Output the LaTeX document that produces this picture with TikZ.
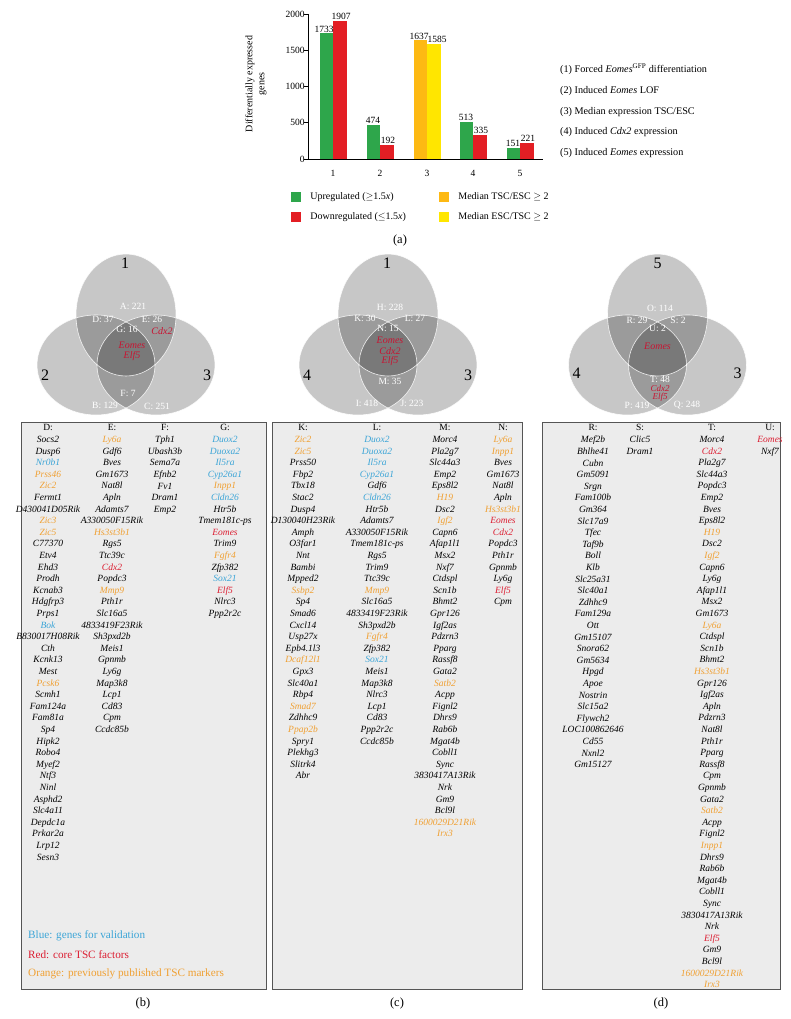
\documentclass[tikz,border=0pt]{standalone}
\usepackage{fontspec}
\setmainfont{Liberation Serif}
\usepackage{tikz}
\usepackage{xcolor}
\usetikzlibrary{positioning}

\definecolor{upgreen}{RGB}{46,166,75}
\definecolor{downred}{RGB}{227,30,36}
\definecolor{medorange}{RGB}{253,185,19}
\definecolor{medyellow}{RGB}{255,230,0}
\definecolor{genblue}{RGB}{60,165,215}
\definecolor{genred}{RGB}{220,30,50}
\definecolor{genorange}{RGB}{240,160,50}
\definecolor{boxgray}{RGB}{236,236,236}
\definecolor{boxline}{RGB}{85,85,85}
\definecolor{vennred}{RGB}{200,20,50}

\newcommand{\gblue}[1]{\textcolor{genblue}{#1}}
\newcommand{\gred}[1]{\textcolor{genred}{#1}}
\newcommand{\gorange}[1]{\textcolor{genorange}{#1}}

\tikzset{
  gene/.style={anchor=north, inner sep=0pt, align=center, font=\fontsize{9.5}{11.6}\selectfont\itshape},
  colhead/.style={inner sep=0pt, font=\fontsize{9.5}{11}\selectfont},
  genebox/.style={fill=boxgray, draw=boxline, line width=0.9pt},
  vennset/.style={fill=black, fill opacity=0.22},
  vennedge/.style={draw=white, line width=0.6pt, opacity=0.85},
  venncount/.style={text=white, inner sep=0pt, font=\fontsize{9.5}{10}\selectfont},
  venngene/.style={text=vennred, inner sep=0pt, font=\fontsize{10}{11}\selectfont\itshape},
  vennnum/.style={inner sep=0pt, font=\fontsize{16}{17}\selectfont},
  panel/.style={inner sep=0pt, font=\fontsize{12.5}{13}\selectfont},
  barval/.style={anchor=south, inner sep=1pt, font=\fontsize{9.5}{10}\selectfont},
  axislabel/.style={inner sep=0pt, font=\fontsize{9.5}{10}\selectfont},
  legkey/.style={minimum size=10pt, inner sep=0pt},
  legtext/.style={inner sep=0pt, font=\fontsize{10}{11}\selectfont},
  keynote/.style={anchor=west, inner sep=0pt, font=\fontsize{10.2}{11}\selectfont},
  boxnote/.style={anchor=west, inner sep=0pt, font=\fontsize{11.2}{12}\selectfont}
}

\begin{document}
\begin{tikzpicture}[x=1pt,y=-1pt]
\useasboundingbox (0,0) rectangle (791,1019);

% bar chart
\draw[line width=0.6pt] (308,14) -- (308,159) -- (543,159);
\foreach \v in {0,500,1000,1500,2000}
  \draw[line width=0.6pt] (304,{159-0.0725*\v}) -- (308,{159-0.0725*\v})
    node[axislabel, anchor=east, xshift=-3pt] {\v};
\node[axislabel, align=center, rotate=90, font=\fontsize{10}{12}\selectfont] (ytitle) at (256,84) {Differentially expressed\\genes};

\fill[upgreen] (319.5,159) rectangle (333,{159-0.0725*1733});
\fill[downred] (333,159) rectangle (346.5,{159-0.0725*1907});
\node[barval] (v1a) at (324,{159-0.0725*1733}) {1733};
\node[barval] (v1b) at (341,{159-0.0725*1907}) {1907};
\fill[upgreen] (366.5,159) rectangle (380,{159-0.0725*474});
\fill[downred] (380,159) rectangle (393.5,{159-0.0725*192});
\node[barval] (v2a) at (373,{159-0.0725*474}) {474};
\node[barval] (v2b) at (388,{159-0.0725*192}) {192};
\fill[medorange] (413.5,159) rectangle (427,{159-0.0725*1637});
\fill[medyellow] (427,159) rectangle (440.5,{159-0.0725*1585});
\node[barval] (v3a) at (419,{159-0.0725*1637}) {1637};
\node[barval] (v3b) at (437,{159-0.0725*1585}) {1585};
\fill[upgreen] (459.5,159) rectangle (473,{159-0.0725*513});
\fill[downred] (473,159) rectangle (486.5,{159-0.0725*335});
\node[barval] (v4a) at (466,{159-0.0725*513}) {513};
\node[barval] (v4b) at (481,{159-0.0725*335}) {335};
\fill[upgreen] (506.5,159) rectangle (520,{159-0.0725*151});
\fill[downred] (520,159) rectangle (533.5,{159-0.0725*221});
\node[barval] (v5a) at (513,{159-0.0725*151}) {151};
\node[barval] (v5b) at (528,{159-0.0725*221}) {221};

\node[axislabel] (c1) at (333,173) {1};
\node[axislabel] (c2) at (380,173) {2};
\node[axislabel] (c3) at (427,173) {3};
\node[axislabel] (c4) at (473,173) {4};
\node[axislabel] (c5) at (520,173) {5};

\node[legkey, fill=upgreen] (kup) at (296,197) {};
\node[legtext, right=9pt of kup] (tup) {Upregulated ($\geq$1.5\textit{x})};
\node[legkey, fill=downred] (kdown) at (296,217) {};
\node[legtext, right=9pt of kdown] (tdown) {Downregulated ($\leq$1.5\textit{x})};
\node[legkey, fill=medorange] (ktsc) at (444,197) {};
\node[legtext, right=9pt of ktsc] (ttsc) {Median TSC/ESC $\geq$ 2};
\node[legkey, fill=medyellow] (kesc) at (444,217) {};
\node[legtext, right=9pt of kesc] (tesc) {Median ESC/TSC $\geq$ 2};

\node[keynote] (n1) at (560,69) {(1) Forced \textit{Eomes}\textsuperscript{GFP} differentiation};
\node[keynote] (n2) at (560,91) {(2) Induced \textit{Eomes} LOF};
\node[keynote] (n3) at (560,112) {(3) Median expression TSC/ESC};
\node[keynote] (n4) at (560,132) {(4) Induced \textit{Cdx2} expression};
\node[keynote] (n5) at (560,153) {(5) Induced \textit{Eomes} expression};

\node[panel] (pa) at (400,240) {(a)};

% venn 1, 2, 3
\begin{scope}[shift={(126,0)}]
\fill[vennset] (0,315) ellipse [x radius=50pt, y radius=61pt];
\fill[vennset] (-30,365) ellipse [x radius=59pt, y radius=50pt];
\fill[vennset] (30,365) ellipse [x radius=59pt, y radius=50pt];
\draw[vennedge] (0,315) ellipse [x radius=50pt, y radius=61pt];
\draw[vennedge] (-30,365) ellipse [x radius=59pt, y radius=50pt];
\draw[vennedge] (30,365) ellipse [x radius=59pt, y radius=50pt];
\node[vennnum] (s1) at (-1,263) {1};
\node[vennnum] (s2) at (-81,375) {2};
\node[vennnum] (s3) at (81,375) {3};
\node[venncount] (ra) at (7,306) {A: 221};
\node[venncount] (rd) at (-23,319) {D: 37};
\node[venncount] (re) at (26,319) {E: 26};
\node[venncount] (rg) at (1,329) {G: 16};
\node[venngene] (ecdx) at (36,331) {Cdx2};
\node[venngene] (geo) at (6,345) {Eomes};
\node[venngene] (gelf) at (6,356) {Elf5};
\node[venncount] (rf) at (2,393) {F: 7};
\node[venncount] (rb) at (-21,405) {B: 129};
\node[venncount] (rc) at (31,406) {C: 251};
\end{scope}

\begin{scope}[shift={(388,0)}]
\fill[vennset] (0,315) ellipse [x radius=50pt, y radius=61pt];
\fill[vennset] (-30,365) ellipse [x radius=59pt, y radius=50pt];
\fill[vennset] (30,365) ellipse [x radius=59pt, y radius=50pt];
\draw[vennedge] (0,315) ellipse [x radius=50pt, y radius=61pt];
\draw[vennedge] (-30,365) ellipse [x radius=59pt, y radius=50pt];
\draw[vennedge] (30,365) ellipse [x radius=59pt, y radius=50pt];
\node[vennnum] (s1b) at (-1,263) {1};
\node[vennnum] (s4b) at (-81,375) {4};
\node[vennnum] (s3b) at (80,375) {3};
\node[venncount] (rh) at (2,307) {H: 228};
\node[venncount] (rk) at (-23,318) {K: 30};
\node[venncount] (rl) at (27,318) {L: 27};
\node[venncount] (rn) at (0,328) {N: 15};
\node[venngene] (neo) at (2,340) {Eomes};
\node[venngene] (ncdx) at (2,351) {Cdx2};
\node[venngene] (nelf) at (2,361) {Elf5};
\node[venncount] (rm) at (2,381) {M: 35};
\node[venncount] (ri) at (-21,403) {I: 418};
\node[venncount] (rj) at (24,403) {J: 223};
\end{scope}

\begin{scope}[shift={(657.5,0)}]
\fill[vennset] (0,315) ellipse [x radius=50pt, y radius=61pt];
\fill[vennset] (-30,365) ellipse [x radius=59pt, y radius=50pt];
\fill[vennset] (30,365) ellipse [x radius=59pt, y radius=50pt];
\draw[vennedge] (0,315) ellipse [x radius=50pt, y radius=61pt];
\draw[vennedge] (-30,365) ellipse [x radius=59pt, y radius=50pt];
\draw[vennedge] (30,365) ellipse [x radius=59pt, y radius=50pt];
\node[vennnum] (s5c) at (0,263) {5};
\node[vennnum] (s4c) at (-81,373) {4};
\node[vennnum] (s3c) at (80,373) {3};
\node[venncount] (ro) at (2.5,308) {O: 114};
\node[venncount] (rr) at (-20.5,320) {R: 29};
\node[venncount] (rs) at (20.5,320) {S: 2};
\node[venncount] (ru) at (0,328) {U: 2};
\node[venngene] (ueo) at (0,346) {Eomes};
\node[venncount] (rt) at (2.5,379) {T: 48};
\node[venngene, font=\fontsize{9}{9}\selectfont\itshape] (tcdx) at (2.5,388.5) {Cdx2};
\node[venngene, font=\fontsize{9}{9}\selectfont\itshape] (telf) at (2.5,397) {Elf5};
\node[venncount] (rp) at (-20.5,405) {P: 419};
\node[venncount] (rq) at (29.5,405) {Q: 248};
\end{scope}

% gene boxes
\draw[genebox] (21,422) rectangle (266,989);
\draw[genebox] (272,422) rectangle (522,989);
\draw[genebox] (542,422) rectangle (780,989);

\node[colhead] (hd) at (48,427) {D:};
\node[colhead] (he) at (112,427) {E:};
\node[colhead] (hf) at (165,427) {F:};
\node[colhead] (hg) at (225,427) {G:};
\node[gene] (listd) at (48,436) {Socs2\\Dusp6\\\gblue{Nr0b1}\\\gorange{Prss46}\\\gorange{Zic2}\\Fermt1\\D430041D05Rik\\\gorange{Zic3}\\\gorange{Zic5}\\C77370\\Etv4\\Ehd3\\Prodh\\Kcnab3\\Hdgfrp3\\Prps1\\\gblue{Bok}\\B830017H08Rik\\Cth\\Kcnk13\\Mest\\\gorange{Pcsk6}\\Scmh1\\Fam124a\\Fam81a\\Sp4\\Hipk2\\Robo4\\Myef2\\Ntf3\\Ninl\\Asphd2\\Slc4a11\\Depdc1a\\Prkar2a\\Lrp12\\Sesn3};
\node[gene] (liste) at (112,436) {\gorange{Ly6a}\\Gdf6\\Bves\\Gm1673\\Nat8l\\Apln\\Adamts7\\A330050F15Rik\\\gorange{Hs3st3b1}\\Rgs5\\Ttc39c\\\gred{Cdx2}\\Popdc3\\\gorange{Mmp9}\\Pth1r\\Slc16a5\\4833419F23Rik\\Sh3pxd2b\\Meis1\\Gpnmb\\Ly6g\\Map3k8\\Lcp1\\Cd83\\Cpm\\Ccdc85b};
\node[gene] (listf) at (165,436) {Tph1\\Ubash3b\\Sema7a\\Efnb2\\Fv1\\Dram1\\Emp2};
\node[gene] (listg) at (225,436) {\gblue{Duox2}\\\gblue{Duoxa2}\\\gblue{Il5ra}\\\gblue{Cyp26a1}\\\gorange{Inpp1}\\\gblue{Cldn26}\\Htr5b\\Tmem181c-ps\\\gred{Eomes}\\Trim9\\\gorange{Fgfr4}\\Zfp382\\\gblue{Sox21}\\\gred{Elf5}\\Nlrc3\\Ppp2r2c};
\node[boxnote, text=genblue] (kb) at (28,936) {Blue: genes for validation};
\node[boxnote, text=genred] (kr) at (28,955) {Red: core TSC factors};
\node[boxnote, text=genorange] (ko) at (28,974) {Orange: previously published TSC markers};

\node[colhead] (hk) at (303,427) {K:};
\node[colhead] (hl) at (377,427) {L:};
\node[colhead] (hm) at (445,427) {M:};
\node[colhead] (hn) at (503,427) {N:};
\node[gene] (listk) at (303,436) {\gorange{Zic2}\\\gorange{Zic5}\\Prss50\\Fbp2\\Tbx18\\Stac2\\Dusp4\\D130040H23Rik\\Amph\\O3far1\\Nnt\\Bambi\\Mpped2\\\gorange{Ssbp2}\\Sp4\\Smad6\\Cxcl14\\Usp27x\\Epb4.1l3\\\gorange{Dcaf12l1}\\Gpx3\\Slc40a1\\Rbp4\\\gorange{Smad7}\\Zdhhc9\\\gorange{Ppap2b}\\Spry1\\Plekhg3\\Slitrk4\\Abr};
\node[gene] (listl) at (377,436) {\gblue{Duox2}\\\gblue{Duoxa2}\\\gblue{Il5ra}\\\gblue{Cyp26a1}\\Gdf6\\\gblue{Cldn26}\\Htr5b\\Adamts7\\A330050F15Rik\\Tmem181c-ps\\Rgs5\\Trim9\\Ttc39c\\\gorange{Mmp9}\\Slc16a5\\4833419F23Rik\\Sh3pxd2b\\\gorange{Fgfr4}\\Zfp382\\\gblue{Sox21}\\Meis1\\Map3k8\\Nlrc3\\Lcp1\\Cd83\\Ppp2r2c\\Ccdc85b};
\node[gene] (listm) at (445,436) {Morc4\\Pla2g7\\Slc44a3\\Emp2\\Eps8l2\\\gorange{H19}\\Dsc2\\\gorange{Igf2}\\Capn6\\Afap1l1\\Msx2\\Nxf7\\Ctdspl\\Scn1b\\Bhmt2\\Gpr126\\Igf2as\\Pdzrn3\\Pparg\\Rassf8\\Gata2\\\gorange{Satb2}\\Acpp\\Fignl2\\Dhrs9\\Rab6b\\Mgat4b\\Cobll1\\Sync\\3830417A13Rik\\Nrk\\Gm9\\Bcl9l\\\gorange{1600029D21Rik}\\\gorange{Irx3}};
\node[gene] (listn) at (503,436) {\gorange{Ly6a}\\\gorange{Inpp1}\\Bves\\Gm1673\\Nat8l\\Apln\\\gorange{Hs3st3b1}\\\gred{Eomes}\\\gred{Cdx2}\\Popdc3\\Pth1r\\Gpnmb\\Ly6g\\\gred{Elf5}\\Cpm};

\node[colhead] (hr) at (593,427) {R:};
\node[colhead] (hs) at (640,427) {S:};
\node[colhead] (ht) at (712,427) {T:};
\node[colhead] (hu) at (770,427) {U:};
\node[gene] (listr) at (593,436) {Mef2b\\Bhlhe41\\Cubn\\Gm5091\\Srgn\\Fam100b\\Gm364\\Slc17a9\\Tfec\\Taf9b\\Boll\\Klb\\Slc25a31\\Slc40a1\\Zdhhc9\\Fam129a\\Ott\\Gm15107\\Snora62\\Gm5634\\Hpgd\\Apoe\\Nostrin\\Slc15a2\\Flywch2\\LOC100862646\\Cd55\\Nxnl2\\Gm15127};
\node[gene] (lists) at (640,436) {Clic5\\Dram1};
\node[gene] (listt) at (712,436) {Morc4\\\gred{Cdx2}\\Pla2g7\\Slc44a3\\Popdc3\\Emp2\\Bves\\Eps8l2\\\gorange{H19}\\Dsc2\\\gorange{Igf2}\\Capn6\\Ly6g\\Afap1l1\\Msx2\\Gm1673\\\gorange{Ly6a}\\Ctdspl\\Scn1b\\Bhmt2\\\gorange{Hs3st3b1}\\Gpr126\\Igf2as\\Apln\\Pdzrn3\\Nat8l\\Pth1r\\Pparg\\Rassf8\\Cpm\\Gpnmb\\Gata2\\\gorange{Satb2}\\Acpp\\Fignl2\\\gorange{Inpp1}\\Dhrs9\\Rab6b\\Mgat4b\\Cobll1\\Sync\\3830417A13Rik\\Nrk\\\gred{Elf5}\\Gm9\\Bcl9l\\\gorange{1600029D21Rik}\\\gorange{Irx3}};
\node[gene] (listu) at (770,436) {\gred{Eomes}\\Nxf7};

\node[panel] (pb) at (143,1003) {(b)};
\node[panel] (pc) at (397,1003) {(c)};
\node[panel] (pd) at (661,1003) {(d)};
\end{tikzpicture}
\end{document}
